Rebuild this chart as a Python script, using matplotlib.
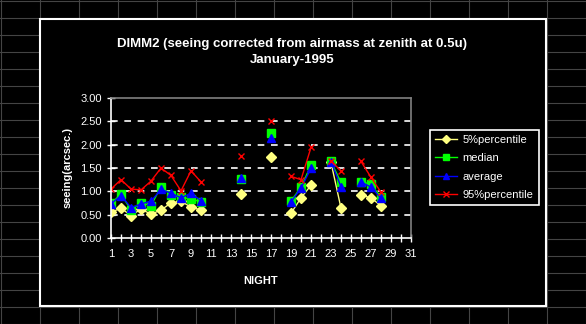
import numpy as np
import matplotlib
matplotlib.use("Agg")
import matplotlib.pyplot as plt
from matplotlib.patches import Rectangle

nan = np.nan

# seeing statistics per night, January 1995 (missing nights = nan)
nights = np.arange(1, 32)
p5 = [0.55, 0.64, 0.48, 0.62, 0.51, 0.60, 0.75, 0.79, 0.66, 0.60,
      nan, nan, nan, 0.94, nan, nan, 1.74, nan, 0.53, 0.86,
      1.13, nan, 1.62, 0.64, nan, 0.92, 0.86, 0.69, nan, nan, nan]
median = [0.74, 0.94, 0.60, 0.76, 0.69, 1.10, 0.93, 0.87, 0.84, 0.77,
          nan, nan, nan, 1.27, nan, nan, 2.26, nan, 0.79, 1.09,
          1.56, nan, 1.64, 1.19, nan, 1.21, 1.15, 0.87, nan, nan, nan]
average = [0.73, 0.91, 0.65, 0.73, 0.79, 1.04, 0.96, 0.86, 0.96, 0.80,
           nan, nan, nan, 1.29, nan, nan, 2.14, nan, 0.77, 1.07,
           1.49, nan, 1.63, 1.10, nan, 1.20, 1.09, 0.85, nan, nan, nan]
p95 = [1.05, 1.25, 1.05, 1.03, 1.22, 1.50, 1.34, 1.01, 1.44, 1.20,
       nan, nan, nan, 1.76, nan, nan, 2.50, nan, 1.32, 1.25,
       1.94, nan, 1.65, 1.44, nan, 1.64, 1.30, 0.98, nan, nan, nan]

plt.rcParams['font.family'] = ['Liberation Sans', 'DejaVu Sans']

W, H = 586, 324
fig = plt.figure(figsize=(W / 100, H / 100), dpi=100, facecolor='black')

# spreadsheet cell grid behind the chart
bg = fig.add_axes([0, 0, 1, 1])
bg.set_xlim(0, W)
bg.set_ylim(H, 0)
bg.axis('off')
bg.set_facecolor('black')
for x in range(0, W + 1, 39):
    bg.plot([x + 0.5, x + 0.5], [0, H], color='#444444', lw=0.8)
for y in range(0, H + 1, 17):
    bg.plot([0, W], [y + 0.5, y + 0.5], color='#444444', lw=0.8)
bg.add_patch(Rectangle((39.5, 18.5), 506, 287, facecolor='black',
                       edgecolor='white', lw=1.5, zorder=5))

ax = fig.add_axes([111 / W, 1 - 238 / H, 300 / W, 140 / H])
ax.set_facecolor('black')

ax.plot(nights, p5, color='#ffff80', lw=1, marker='D', ms=5,
        mfc='#ffff80', mec='#ffff80', label='5%percentile')
ax.plot(nights, median, color='#00ff00', lw=1, marker='s', ms=6,
        mfc='#00ff00', mec='#00ff00', label='median')
ax.plot(nights, average, color='#0000ff', lw=1, marker='^', ms=6,
        mfc='#0000ff', mec='#0000ff', label='average')
ax.plot(nights, p95, color='#ff0000', lw=1, marker='x', ms=5, mew=1,
        label='95%percentile')

ax.set_xlim(1, 31)
ax.set_ylim(0, 3)
ax.set_xticks(nights)
ax.set_xticklabels([str(n) if n % 2 else '' for n in nights])
ax.set_yticks(np.arange(0, 3.01, 0.5))
ax.set_yticklabels([f'{v:.2f}' for v in np.arange(0, 3.01, 0.5)])
ax.tick_params(colors='white', labelsize=8, direction='inout', length=6,
               width=1)
ax.tick_params(axis='x', pad=5)
for v in np.arange(0.5, 2.6, 0.5):
    ax.axhline(v, color='white', lw=1.2, dashes=(4, 4), zorder=0)

for side in ('left', 'bottom'):
    ax.spines[side].set_color('white')
    ax.spines[side].set_linewidth(1.2)
for side in ('top', 'right'):
    ax.spines[side].set_color('#808080')
    ax.spines[side].set_linewidth(1.2)

ax.set_xlabel('NIGHT', color='white', fontsize=8, fontweight='bold',
              labelpad=12)
ax.set_ylabel('seeing(arcsec.)', color='white', fontsize=8,
              fontweight='bold', labelpad=6)

fig.text(292 / W, 1 - 52 / H,
         'DIMM2 (seeing corrected from airmass at zenith at 0.5u)\nJanuary-1995',
         color='white', fontsize=9.5, fontweight='bold', ha='center',
         va='center', linespacing=1.5)

leg = ax.legend(loc='upper left', bbox_to_anchor=(430 / W, 1 - 130 / H),
                bbox_transform=fig.transFigure, frameon=True, fontsize=8,
                facecolor='black', edgecolor='white', labelcolor='white',
                handlelength=2.0, handletextpad=0.5, borderpad=0.45,
                borderaxespad=0, labelspacing=0.75,
                fancybox=False, framealpha=1)
leg.get_frame().set_linewidth(1.2)
for h in leg.legend_handles:
    h.set_markersize(4)

fig.savefig('out.png', dpi=100, facecolor='black')
